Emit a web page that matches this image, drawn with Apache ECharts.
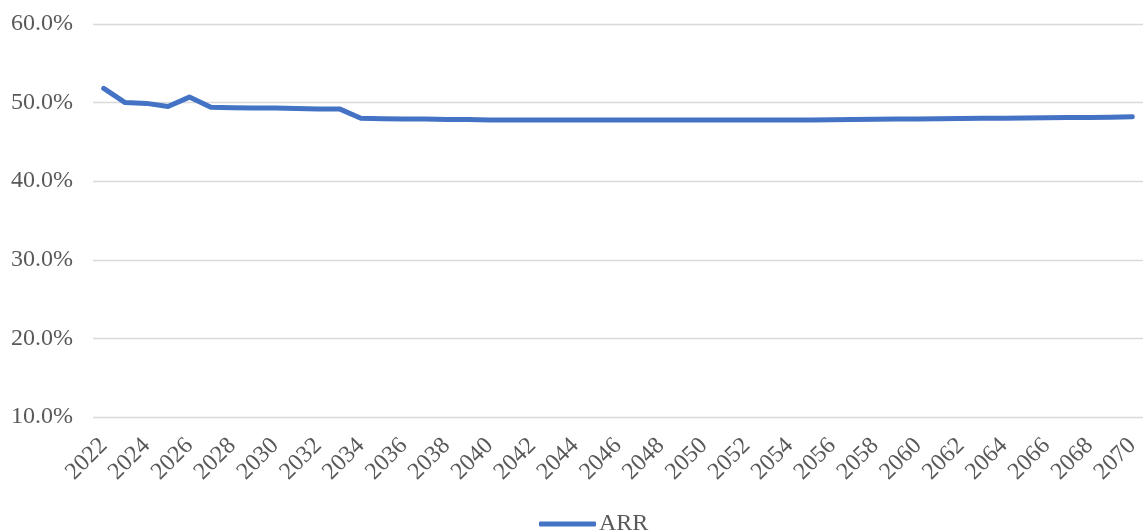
<!DOCTYPE html>
<html><head><meta charset="utf-8">
<script src="https://cdn.jsdelivr.net/npm/echarts@6/dist/echarts.min.js"></script>
<style>html,body{margin:0;padding:0;background:#fff}#c{width:1143px;height:530px}</style>
</head><body><div id="c"></div>
<script>
const years = [];
for (let y = 2022; y <= 2070; y++) years.push(String(y));
const seriesName = 'ARR';
const arr = [
  51.8, 50.0, 49.9, 49.5, 50.7, 49.4, 49.35, 49.3, 49.3, 49.25, 49.2, 49.2,
  48.0, 47.95, 47.9, 47.9, 47.85, 47.85, 47.8, 47.8, 47.8, 47.8, 47.8, 47.8,
  47.8, 47.78, 47.8, 47.8, 47.8, 47.8, 47.8, 47.8, 47.8, 47.8,
  47.82, 47.85, 47.87, 47.9, 47.92, 47.95, 47.97, 48.0, 48.02, 48.05,
  48.08, 48.1, 48.12, 48.15, 48.2
];
const yTicks = { min: 10, max: 60, interval: 10 };
const font = '"Liberation Serif", "Times New Roman", serif';
const chart = echarts.init(document.getElementById('c'));
chart.setOption({
  animation: false,
  textStyle: { fontFamily: font },
  grid: { left: 93, right: 0, top: 24, bottom: 113, containLabel: false },
  legend: {
    top: 507, left: 534, itemWidth: 57, itemHeight: 5, itemGap: 10,
    icon: 'roundRect',
    textStyle: { fontFamily: font, fontSize: 24, color: '#595959', padding: [0,0,0,-2] },
    data: [seriesName]
  },
  xAxis: {
    type: 'category', data: years, boundaryGap: true,
    axisLine: { show: false }, axisTick: { show: false },
    axisLabel: { interval: 1, rotate: 45, fontFamily: font, fontSize: 24, color: '#595959', margin: 25 }
  },
  yAxis: {
    type: 'value', min: yTicks.min, max: yTicks.max, interval: yTicks.interval,
    axisLine: { show: false }, axisTick: { show: false },
    splitLine: { lineStyle: { color: '#d9d9d9', width: 1.3 } },
    axisLabel: { formatter: v => v.toFixed(1) + '%', fontFamily: font, fontSize: 24, color: '#595959', margin: 20 }
  },
  series: [{
    name: seriesName, type: 'line', data: arr, showSymbol: false, symbol: 'none',
    lineStyle: { color: '#4472C4', width: 5, cap: 'round', join: 'round' },
    itemStyle: { color: '#4472C4' }
  }]
});
</script></body></html>
